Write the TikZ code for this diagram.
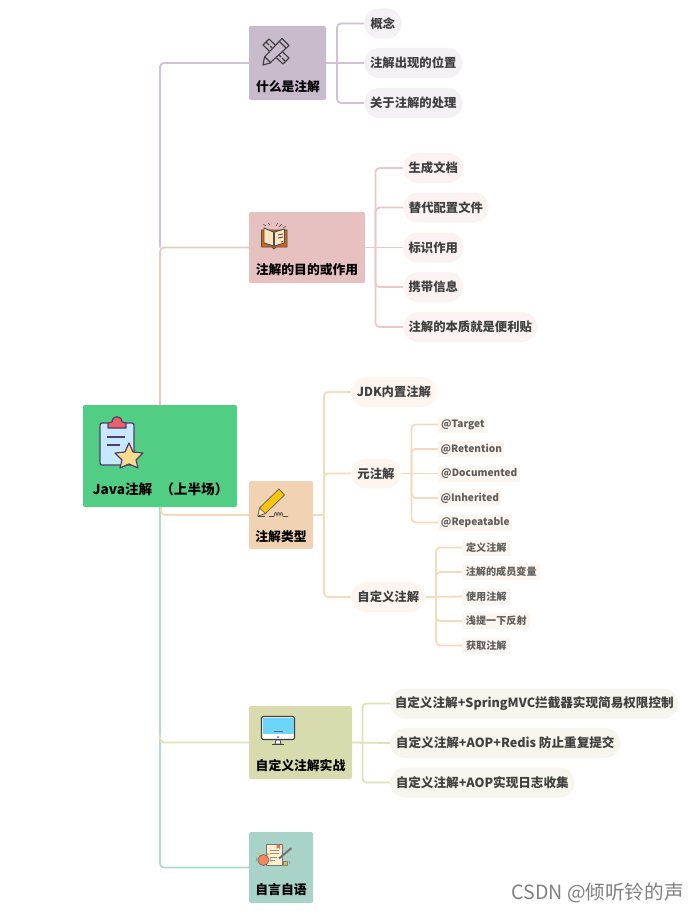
\documentclass[tikz,border=0pt]{standalone}
\usepackage{fontspec}
\setmainfont{Noto Sans CJK SC}
\usetikzlibrary{backgrounds,calc}
\definecolor{cRoot}{HTML}{52CE84}
\definecolor{cA}{HTML}{C8BBCB}\definecolor{lA}{HTML}{CFC3D3}\definecolor{pA}{HTML}{F3F1F4}
\definecolor{cB}{HTML}{E7C0C0}\definecolor{lB}{HTML}{EBC8C7}\definecolor{pB}{HTML}{FAF3F2}
\definecolor{cC}{HTML}{F1D3B3}\definecolor{lC}{HTML}{F6DABD}\definecolor{pC}{HTML}{FDF6F0}
\definecolor{cD}{HTML}{D8DBAE}\definecolor{lD}{HTML}{DEE1B9}\definecolor{pD}{HTML}{F6F6EE}
\definecolor{cE}{HTML}{A9D3C9}\definecolor{lE}{HTML}{AEDAD0}
\definecolor{ink}{HTML}{404040}
\definecolor{iconline}{HTML}{4D3D6B}
\definecolor{iClip}{HTML}{C7E8FF}
\definecolor{iRed}{HTML}{E9606A}
\definecolor{iStar}{HTML}{FBDB8F}
\definecolor{iCover}{HTML}{D66814}
\definecolor{iPage}{HTML}{FDE5C0}
\definecolor{iYellow}{HTML}{FBC60A}
\definecolor{iTip}{HTML}{FDE5AA}
\definecolor{iScreen}{HTML}{6DD5F8}
\definecolor{iPaper}{HTML}{FEF0C8}
\definecolor{iMark}{HTML}{E16E5A}
\definecolor{iClock}{HTML}{F5855F}
\definecolor{iGold}{HTML}{F0B43C}
\newcommand{\dn}[1]{\raisebox{-0.8pt}{#1}}
\tikzset{
  x=0.75pt,y=-0.75pt,
  pill/.style={anchor=west,minimum height=22.5pt,inner sep=0pt,rounded corners=11.2pt,font=\fontsize{9.25pt}{11pt}\selectfont\bfseries,text=ink},
  pillwide/.style={pill,fill=pD,font=\fontsize{9.45pt}{11pt}\selectfont\bfseries},
  tag/.style={anchor=west,minimum height=12pt,inner sep=0pt,font=\fontsize{7.6pt}{9pt}\selectfont\bfseries,text=ink!85},
  conn/.style={line width=1.35pt,rounded corners=3pt},
  lbl/.style={inner sep=0pt,font=\fontsize{9.6pt}{11pt}\selectfont\bfseries,text=black},
}
\newcommand{\boxnode}[6]{% name, x0,y0,x1,y1, colour
  \path[fill=#6,rounded corners=1.5pt] (#2,#3) rectangle (#4,#5);
  \coordinate (#1) at ($(#2,#3)!0.5!(#4,#5)$);
  \coordinate (#1W) at (#2,{(#3+#5)/2});
  \coordinate (#1E) at (#4,{(#3+#5)/2});
}
\begin{document}
\begin{tikzpicture}
\useasboundingbox (0,0) rectangle (699,913);

% Main boxes
\boxnode{root}{83}{405}{237}{507}{cRoot}
\boxnode{ba}{249}{26}{326}{100}{cA}
\boxnode{bb}{249}{212}{365}{283}{cB}
\boxnode{bc}{249}{481}{313}{549}{cC}
\boxnode{bd}{249}{706}{352}{779}{cD}
\boxnode{be}{249}{832}{313}{903}{cE}

% Box labels
\node[lbl] (ta) at (288,87) {什么是注解};
\node[lbl] (tb) at (307,270) {注解的目的或作用};
\node[lbl] (tc) at (281,536.5) {注解类型};
\node[lbl] (td) at (300.5,765.5) {自定义注解实战};
\node[lbl] (te) at (281,889.5) {自言自语};
\node[lbl,font=\fontsize{10.2pt}{12pt}\selectfont\bfseries] (troot) at (160.5,489.5) {Java注解\hspace{0.6em}（上半场）};

% Group A
\node[pill,fill=pA,minimum width=28pt] (a1) at (364,23.5) {\dn{概念}};
\node[pill,fill=pA,minimum width=73.5pt] (a2) at (364,63) {\dn{注解出现的位置}};
\node[pill,fill=pA,minimum width=73.5pt] (a3) at (364,103) {\dn{关于注解的处理}};

% Group B
\node[pill,fill=pB,minimum width=45pt] (b1) at (403,168) {\dn{生成文档}};
\node[pill,fill=pB,minimum width=64pt] (b2) at (403,207.5) {\dn{替代配置文件}};
\node[pill,fill=pB,minimum width=45pt] (b3) at (403,247.5) {\dn{标识作用}};
\node[pill,fill=pB,minimum width=45pt] (b4) at (403,287) {\dn{携带信息}};
\node[pill,fill=pB,minimum width=100.5pt] (b5) at (403,327) {\dn{注解的本质就是便利贴}};

% Group C
\node[pill,fill=pC,minimum width=64pt] (c1) at (351,392) {\dn{JDK内置注解}};
\node[pill,fill=pC,minimum width=37pt] (c2) at (351,473.5) {\dn{元注解}};
\node[pill,fill=pC,minimum width=55.5pt] (c3) at (351,597) {\dn{自定义注解}};

% Meta annotations
\node[tag,fill=pC,minimum width=36.8pt] (m1) at (438,424.5) {\dn{@Target}};
\node[tag,fill=pC,minimum width=49.5pt] (m2) at (438,449) {\dn{@Retention}};
\node[tag,fill=pC,minimum width=61.5pt] (m3) at (438,473.5) {\dn{@Documented}};
\node[tag,fill=pC,minimum width=47.2pt] (m4) at (438,498) {\dn{@Inherited}};
\node[tag,fill=pC,minimum width=55.5pt] (m5) at (438,522.5) {\dn{@Repeatable}};

% Custom annotations
\node[tag,fill=pC,minimum width=36pt] (u1) at (462,547.5) {\dn{定义注解}};
\node[tag,fill=pC,minimum width=58.5pt] (u2) at (462,572) {\dn{注解的成员变量}};
\node[tag,fill=pC,minimum width=36pt] (u3) at (462,596.5) {\dn{使用注解}};
\node[tag,fill=pC,minimum width=51pt] (u4) at (462,621) {\dn{浅提一下反射}};
\node[tag,fill=pC,minimum width=36pt] (u5) at (462,645.5) {\dn{获取注解}};

% Group D
\node[pillwide,minimum width=216pt] (d1) at (390,703.5) {\dn{自定义注解+SpringMVC拦截器实现简易权限控制}};
\node[pillwide,minimum width=172.5pt] (d2) at (390,743) {\dn{自定义注解+AOP+Redis 防止重复提交}};
\node[pillwide,minimum width=138pt] (d3) at (390,782.5) {\dn{自定义注解+AOP实现日志收集}};

% Watermark
\node[inner sep=0pt,anchor=east,font=\fontsize{14.7pt}{16pt}\selectfont,text=black!50] (wm) at (684,893) {CSDN @倾听铃的声};

% Connectors
\coordinate (tr) at (160,405);
\coordinate (tm) at (160,247.5);
\coordinate (trb) at (160,507);
\coordinate (ka) at (337,63);
\coordinate (kb) at (375.5,247.5);
\coordinate (kc) at (324,515);
\coordinate (kd) at (362.5,743);
\coordinate (km) at (411.5,473.5);
\coordinate (ku) at (436,596.5);
\begin{pgfonlayer}{background}
  \fill[white] (0,0) rectangle (699,913);
  \draw[conn,lA] (tm) |- (baW);
  \draw[conn,lB] (tr) -- (tm) -- (bbW);
  \draw[conn,lE] (trb) |- (beW);
  \draw[conn,lD] (trb |- bdW) ++(0,-8) |- (bdW);
  \draw[conn,lC] (trb) ++(1,0) |- (bcW);
  \foreach \t in {a1,a3}{\draw[conn,lA] (ka) |- (\t.west);}
  \draw[conn,lA] (baE) -- (a2.west);
  \foreach \t in {b1,b2,b4,b5}{\draw[conn,lB] (kb) |- (\t.west);}
  \draw[conn,lB] (bbE) -- (b3.west);
  \draw[conn,lC] (bcE) -- (kc);
  \foreach \t in {c1,c2,c3}{\draw[conn,lC] (kc) |- (\t.west);}
  \foreach \t in {m1,m2,m4,m5}{\draw[conn,lC] (km) |- (\t.west);}
  \draw[conn,lC] (c2.east) -- (m3.west);
  \foreach \t in {u1,u2,u4,u5}{\draw[conn,lC] (ku) |- (\t.west);}
  \draw[conn,lC] (c3.east) -- (u3.west);
  \foreach \t in {d1,d3}{\draw[conn,lD] (kd) |- (\t.west);}
  \draw[conn,lD] (bdE) -- (d2.west);
\end{pgfonlayer}

% Root icon: clipboard with star
\draw[iconline,line width=0.9pt,fill=iClip,rounded corners=1.5pt] (100,423) rectangle (134,465);
\draw[iconline,line width=0.9pt,fill=iRed,line join=round] (108,428) -- (108,423) -- (112,422) .. controls (112,415) and (122,415) .. (122,422) -- (126,423) -- (126,428) -- cycle;
\draw[iconline,line width=0.8pt] (107,437) -- (125,437) (107,445) -- (120,445);
\draw[iconline,line width=0.9pt,fill=iStar,line join=round]
  (129,443) -- (133,452) -- (143,453) -- (136,460) -- (138,468) -- (129,464) -- (120,468) -- (122,460) -- (115,453) -- (125,452) -- cycle;

% Icon A: pencil and ruler
\begin{scope}[line width=0.85pt,draw=black!75,line join=round]
  \draw (263,45) -- (269,39) -- (289,58) -- (283,64) -- cycle;
  \draw (266,42) -- (269,45) (270,46) -- (272,48) (279,55) -- (281,57) (282,58) -- (285,61);
  \draw[fill=cA] (282,38.5) -- (289,45.5) -- (270,63) -- (263,65) -- (264.5,57) -- cycle;
  \draw (279,41) -- (286,48) (265,57) -- (271,63);
\end{scope}

% Icon B: open book
\begin{scope}[line join=round]
  \draw[line width=0.7pt,draw=black!70,fill=iCover] (261.5,230) -- (261.5,247) -- (272,247) -- (274,249) -- (276,247) -- (287,247) -- (287,230) -- cycle;
  \draw[line width=0.7pt,draw=black!70,fill=iPage] (264,228) -- (273.5,232) -- (273.5,246) -- (264,243) -- cycle;
  \draw[line width=0.7pt,draw=black!70,fill=iPage] (284.5,229) -- (274.5,232) -- (274.5,246) -- (284.5,243) -- cycle;
  \draw[line width=0.6pt,draw=black!75] (278,235) -- (283,234) (278,238) -- (283,237) (281,242) -- (283,241.5);
  \draw[line width=0.4pt,draw=black!70] (266,226) -- (263,224) (270,225) -- (268,223) (276,226) -- (278,223) (279,227) -- (282,224) (283,228) -- (286,226);
\end{scope}

% Icon C: pencil writing
\begin{scope}[line join=round]
  \draw[line width=0.6pt,draw=black!60,fill=iYellow] (279,489) -- (284.5,495) -- (265.5,513.5) -- (258,516) -- (259.5,508) -- cycle;
  \draw[line width=0.5pt,draw=black!60,fill=iTip] (259.5,508) -- (265.5,513.5) -- (258,516) -- cycle;
  \draw[line width=0.5pt,draw=black!70] (258,516.5) -- (265,516.5) (269,516.5) -- (274,516.5) .. controls (275,511) and (276,511) .. (277,516) .. controls (278,511) and (279,511) .. (280,516) .. controls (281,511) and (282,511) .. (283,516.5) -- (288,516.5);
\end{scope}

% Icon D: monitor
\begin{scope}[line join=round]
  \draw[line width=0.8pt,draw=black!75,fill=white,rounded corners=1pt] (261.5,716.5) rectangle (294.5,739.5);
  \path[fill=iScreen] (262.5,717.5) rectangle (293.5,733.5);
  \draw[line width=0.8pt,draw=black!60] (274,731.5) -- (283,731.5);
  \draw[line width=0.6pt,draw=black!75,fill=white] (276,740) -- (280,740) -- (281,744) -- (275,744) -- cycle;
  \draw[line width=0.7pt,draw=black!75] (272,744.5) -- (284,744.5);
  \fill[black!75] (278,737) circle[radius=0.9];
\end{scope}

% Icon E: paper, clock, pen
\begin{scope}[line join=round]
  \draw[line width=0.5pt,draw=black!55,fill=iPaper] (266.5,844.5) rectangle (282,865);
  \fill[iMark] (276.5,844.5) -- (280,844.5) -- (280,849) -- (278.2,847.5) -- (276.5,849) -- cycle;
  \draw[line width=0.5pt,draw=black!45] (270,850) -- (279,850) (270,853.5) -- (279,853.5) (270,857) -- (277,857) (270,860.5) -- (275,860.5);
  \draw[line width=0.5pt,draw=black!60,fill=iClock] (263.5,860) circle[radius=5.5];
  \fill[iGold] (259,854) circle[radius=1.3] (268,854) circle[radius=1.3];
  \draw[line width=0.4pt,draw=black!45] (257,857) -- (256,862) (270.5,857) -- (271,862);
  \draw[line width=1.5pt,draw=black!55] (279,858.5) -- (291.5,848);
  \draw[line width=0.5pt,draw=black!50,fill=iGold] (283,861) rectangle (287,865.5);
  \draw[line width=0.4pt,draw=black!45] (289,861) -- (290,864);
\end{scope}
\end{tikzpicture}
\end{document}
